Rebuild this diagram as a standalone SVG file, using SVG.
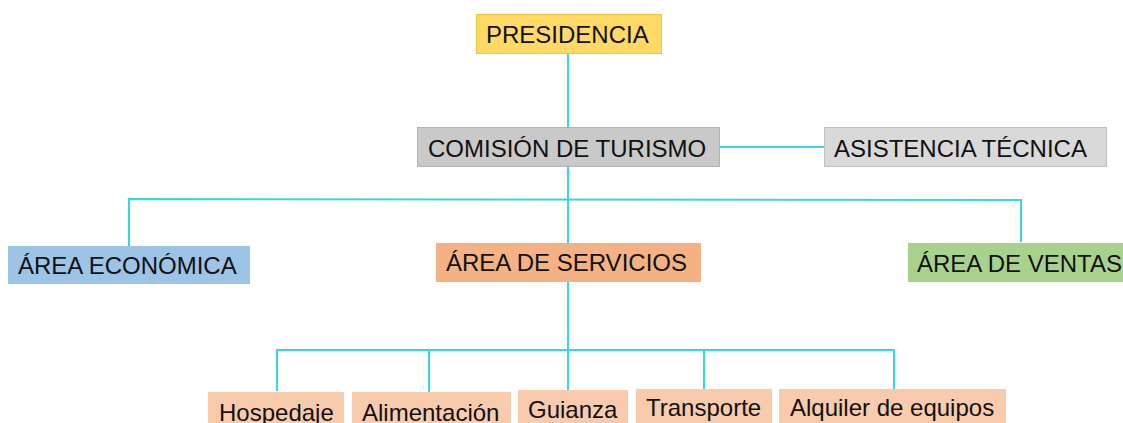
<svg xmlns="http://www.w3.org/2000/svg" width="1123" height="423" viewBox="0 0 1123 423">
<style>
text{font-family:"Liberation Sans",Arial,sans-serif;font-size:24px;fill:#111}
.c{stroke:#33D8E0;stroke-width:2;fill:none}
</style>
<rect width="1123" height="423" fill="#fff"/>
<g id="connectors">
<line class="c" x1="568" y1="53" x2="568" y2="127"/>
<line class="c" x1="720" y1="147" x2="824" y2="147"/>
<line class="c" x1="568" y1="166" x2="568" y2="350"/>
<polyline class="c" points="129,246 129,199 1021,200 1021,242"/>
<polyline class="c" points="277,391 277,350 894,350 894,390"/>
<line class="c" x1="429" y1="350" x2="429" y2="392"/>
<line class="c" x1="568" y1="350" x2="568" y2="390"/>
<line class="c" x1="704" y1="350" x2="704" y2="389"/>
</g>
<g id="presidencia"><rect x="476.5" y="14.5" width="185" height="39" fill="#FFD966" stroke="#F5C242"/><text x="486" y="43">PRESIDENCIA</text></g>
<g id="comision"><rect x="417.5" y="127.5" width="302" height="39" fill="#C9C9C9" stroke="#B3B3B3"/><text x="428" y="157">COMISIÓN DE TURISMO</text></g>
<g id="asistencia"><rect x="824.5" y="127.5" width="282" height="39" fill="#D9D9D9" stroke="#BFBFBF"/><text x="834" y="157">ASISTENCIA TÉCNICA</text></g>
<g id="economica"><rect x="8" y="246" width="242" height="38" fill="#9DC3E6"/><text x="18" y="274">ÁREA ECONÓMICA</text></g>
<g id="servicios"><rect x="436" y="243" width="265" height="39" fill="#F4B183"/><text x="446" y="271">ÁREA DE SERVICIOS</text></g>
<g id="ventas"><rect x="908" y="243" width="215" height="39" fill="#A9D18E"/><text x="917" y="272">ÁREA DE VENTAS</text></g>
<g id="hospedaje"><rect x="208" y="392" width="136" height="31" fill="#F8CBAD"/><text x="219" y="421">Hospedaje</text></g>
<g id="alimentacion"><rect x="352" y="392" width="159" height="31" fill="#F8CBAD"/><text x="362" y="421">Alimentación</text></g>
<g id="guianza"><rect x="518" y="390" width="110" height="33" fill="#F8CBAD"/><text x="528" y="418">Guianza</text></g>
<g id="transporte"><rect x="636" y="389" width="136" height="34" fill="#F8CBAD"/><text x="646" y="416">Transporte</text></g>
<g id="alquiler"><rect x="779" y="389" width="227" height="34" fill="#F8CBAD"/><text x="790" y="416">Alquiler de equipos</text></g>
</svg>
